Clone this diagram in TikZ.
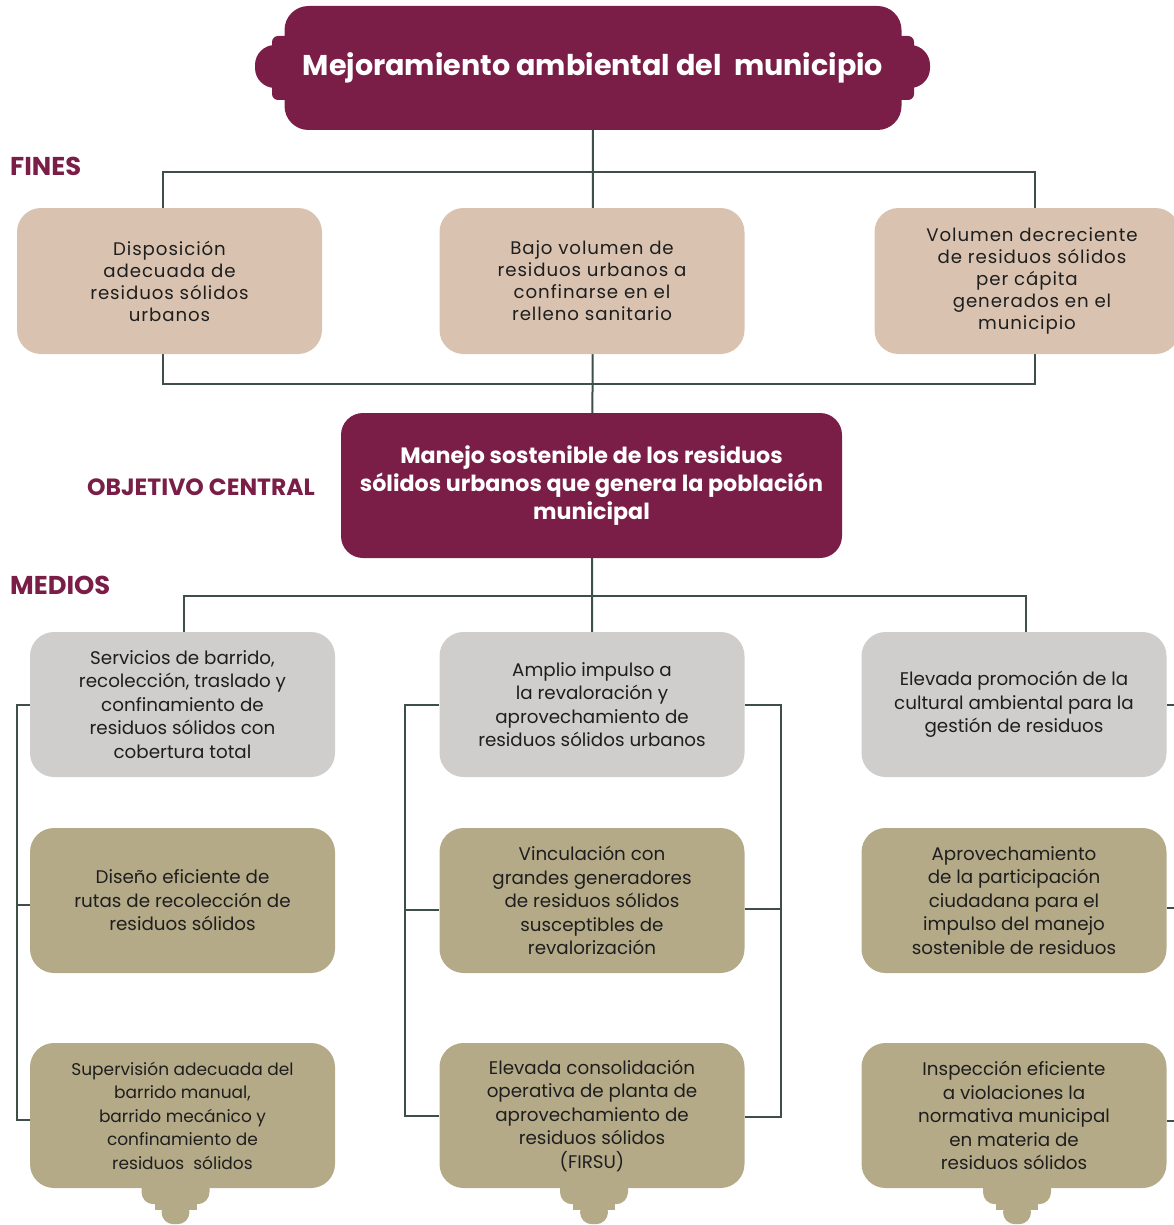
\documentclass[tikz,border=0pt]{standalone}
\usepackage{fontspec}
\setmainfont{Poppins}
\newfontfamily\fuentefin[LetterSpace=5]{Poppins}
\usetikzlibrary{backgrounds}
\definecolor{GuindaTitulo}{RGB}{122,30,72}
\definecolor{ArenaFin}{RGB}{217,195,176}
\definecolor{GrisMedio}{RGB}{208,206,204}
\definecolor{OlivoMedio}{RGB}{181,170,136}
\definecolor{VerdeLinea}{RGB}{62,78,72}
\definecolor{TextoOscuro}{RGB}{30,30,30}

\tikzset{
  caja/.style={rounded corners=24pt, minimum width=305pt, minimum height=145pt,
    align=center, text=TextoOscuro, inner sep=0pt,
    font=\fontsize{18.3}{23.5}\selectfont},
  fin/.style={caja, minimum height=146pt, fill=ArenaFin,
    font=\fuentefin\fontsize{18.2}{22}\selectfont},
  mediogris/.style={caja, fill=GrisMedio},
  medioolivo/.style={caja, fill=OlivoMedio},
  etiqueta/.style={anchor=west, inner sep=0pt, text=GuindaTitulo,
    font=\bfseries\fontsize{25.8}{28}\selectfont},
  conector/.style={draw=VerdeLinea, line width=2pt},
}

\begin{document}
\begin{tikzpicture}[x=1pt,y=-1pt]
  \useasboundingbox (0,0) rectangle (1173,1225);

  % titulo y objetivo
  \node[fill=GuindaTitulo, rounded corners=24pt, minimum width=617pt, minimum height=124pt,
    inner sep=0pt, text=white, font=\bfseries\fontsize{28.6}{32}\selectfont]
    (titulo) at (593,68) {Mejoramiento ambiental del~~municipio};
  \node[fill=GuindaTitulo, rounded corners=22pt, minimum width=501pt, minimum height=145pt,
    inner sep=0pt, align=center, text=white, font=\bfseries\fontsize{22.2}{28}\selectfont]
    (obj) at (591.5,485.5) {Manejo sostenible de los residuos\\
      sólidos urbanos que genera la población\\ municipal};

  \node[etiqueta] (fines) at (10,166) {FINES};
  \node[etiqueta, font=\bfseries\fontsize{23.5}{28}\selectfont] (central) at (87,487) {OBJETIVO CENTRAL};
  \node[etiqueta] (medios) at (10,585) {MEDIOS};

  % fines
  \node[fin] (f1) at (169.5,281) {Disposición\\ adecuada de\\ residuos sólidos\\ urbanos};
  \node[fin] (f2) at (592,281) {Bajo volumen de\\ residuos urbanos a\\ confinarse en el\\ relleno sanitario};
  \node[fin] (f3) at (1027,281) {\hspace*{10pt}Volumen decreciente\\ \hspace*{10pt}de residuos sólidos\\
    per cápita\\ \hspace*{10pt}generados en el\\ municipio};

  % medios
  \node[mediogris] (m11) at (182.5,704.5) {Servicios de barrido,\\ recolección, traslado y\\
    confinamiento de\\ residuos sólidos con\\ cobertura total};
  \node[mediogris] (m12) at (592,704.5) {Amplio impulso a\\ la revaloración y\\
    aprovechamiento de\\ residuos sólidos urbanos};
  \node[mediogris] (m13) at (1014,704.5) {Elevada promoción de la\\ cultural ambiental para la\\
    gestión de residuos};

  \node[medioolivo] (m21) at (182.5,900.5) {Diseño eficiente de\\ rutas de recolección de\\
    residuos sólidos};
  \node[medioolivo] (m22) at (592,900.5) {Vinculación con\\ grandes generadores\\
    de residuos sólidos\\ susceptibles de\\ revalorización};
  \node[medioolivo] (m23) at (1014,900.5) {Aprovechamiento\\ de la participación\\
    ciudadana para el\\ impulso del manejo\\ sostenible de residuos};

  \node[medioolivo, font=\fontsize{17}{23.5}\selectfont] (m31) at (182.5,1115.5) {Supervisión adecuada del\\
    barrido manual,\\ barrido mecánico y\\ confinamiento de\\ residuos~~sólidos};
  \node[medioolivo] (m32) at (592,1115.5) {Elevada consolidación\\ operativa de planta de\\
    aprovechamiento de\\ residuos sólidos\\ (FIRSU)};
  \node[medioolivo] (m33) at (1014,1115.5) {Inspección eficiente\\ a violaciones la\\
    normativa municipal\\ en materia de\\ residuos sólidos};

  \coordinate (bus1) at (592,172);
  \coordinate (bus2) at (592,384);
  \coordinate (bus3) at (592,596);

  \begin{scope}[on background layer]
    % adornos del titulo
    \begin{scope}[shift={(titulo.center)}]
      \fill[GuindaTitulo, rounded corners=6pt] (-321,-32) rectangle (321,32);
      \fill[GuindaTitulo, rounded corners=20pt] (-338,-23) rectangle (337,20);
    \end{scope}
    % pestanas inferiores
    \foreach \n/\d in {m31/-7,m32/2,m33/3}{
      \begin{scope}[shift={([xshift=\d pt]\n.south)}]
        \fill[OlivoMedio, rounded corners=12pt] (-34,-12) rectangle (34,16);
        \fill[OlivoMedio] (-21,10) rectangle (21,22);
        \fill[OlivoMedio, rounded corners=12pt] (-14,12) rectangle (14,36);
      \end{scope}
    }
    % conectores
    \draw[conector] (titulo) -- (m12);
    \draw[conector] ([xshift=-6.5pt]f1.north) |- (bus1) -| ([xshift=8pt]f3.north);
    \draw[conector] ([xshift=-6.5pt]f1.south) |- (bus2) -| ([xshift=8pt]f3.south);
    \draw[conector] ([xshift=1.5pt]m11.north) |- (bus3) -| ([xshift=12pt]m13.north);
    \draw[conector] (m11.west) -- ++(-13,0) |- ([yshift=-4pt]m31.west);
    \draw[conector] ([yshift=-4pt]m21.west) -- ++(-13,0);
    \draw[conector] (m12.west) -- ++(-34,0) |- (m32.west);
    \draw[conector] ([yshift=-9pt]m22.west) -- ++(-34,0);
    \draw[conector] (m12.east) -- ++(36,0) |- ([yshift=-1pt]m32.east);
    \draw[conector] ([yshift=-8pt]m22.east) -- ++(36,0);
    \foreach \n/\d in {m13/0,m23/-7,m33/-5}
      \draw[conector] ([yshift=\d pt]\n.east) -- ++(12,0);
  \end{scope}
\end{tikzpicture}
\end{document}
